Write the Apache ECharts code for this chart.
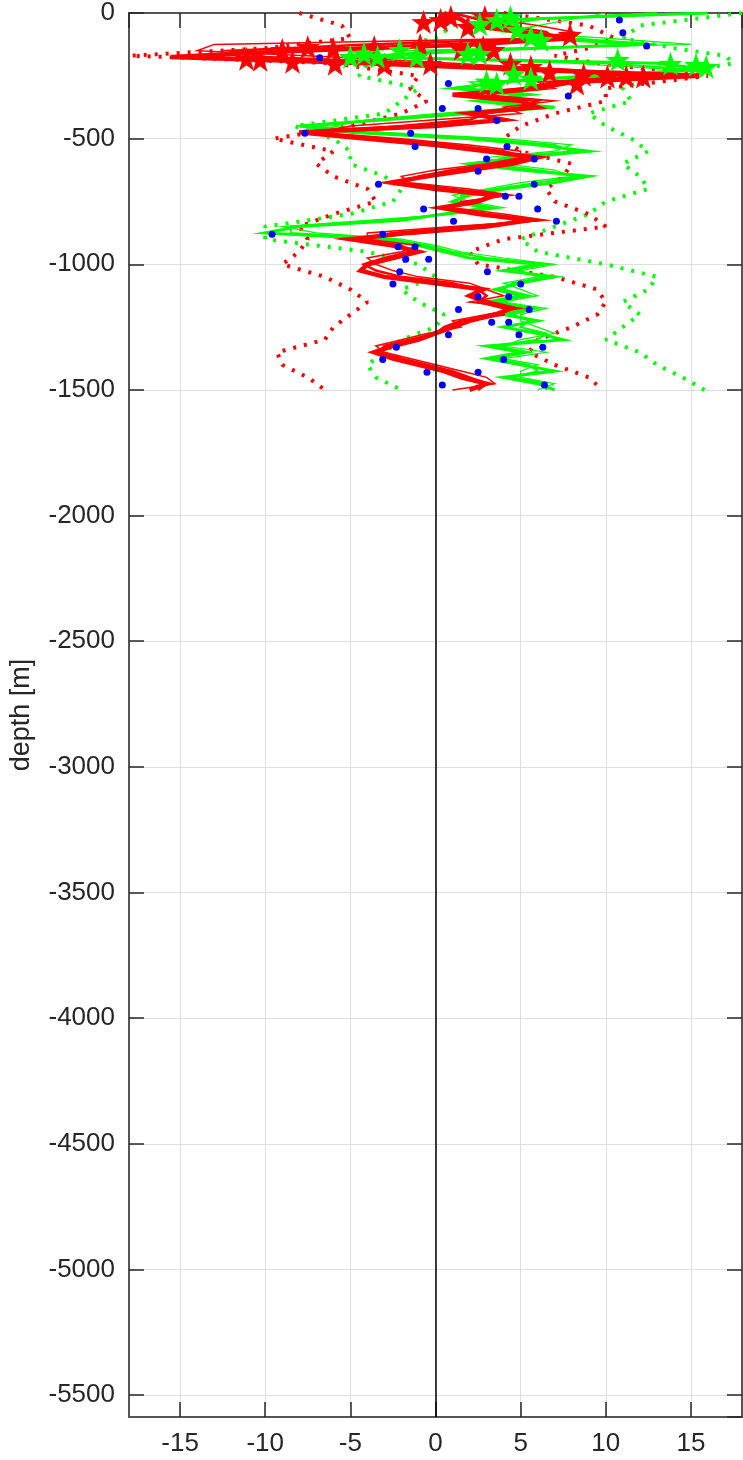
<!DOCTYPE html>
<html>
<head>
<meta charset="utf-8">
<script src="https://cdn.jsdelivr.net/npm/echarts@6/dist/echarts.min.js"></script>
<style>
html,body{margin:0;padding:0;background:#fff;}
#chart{width:743px;height:1460px;}
</style>
</head>
<body>
<div id="chart"></div>
<script>
// ---- data ----
const depth = [0,-25,-50,-75,-100,-125,-150,-175,-200,-225,-250,-275,-300,-325,-350,-375,-400,-425,-450,-475,-500,-525,-550,-575,-600,-625,-650,-675,-700,-725,-750,-775,-800,-825,-850,-875,-900,-925,-950,-975,-1000,-1025,-1050,-1075,-1100,-1125,-1150,-1175,-1200,-1225,-1250,-1275,-1300,-1325,-1350,-1375,-1400,-1425,-1450,-1475,-1500];

const redA = [0.5,1.5,2,5,8,2,-8,-15.5,-4,5,15.5,8,6,1,5,6,2,4,0,-8,-4,0,3,6,4.5,2,-0.5,-2.6,0,3.5,2.5,0.3,2.5,5.5,3,-1.5,-5,-2.5,-1,-2.5,-4,-4.4,-3,0,2.8,2,3,4.5,3.5,2,1,0,-1,-2.5,-3.6,-2.5,-1,0.5,1.5,3,2];
const redB = [2,3.5,6,8,6,-13,-14,-6,1,8,12,6,7,3,7,4,5,0,-5,-7,-2,2,5,5,3,0,-2,-1.5,2,4.5,1.5,1,4,6.5,1,-4,-4,-1,-2,-4,-3.5,-2.5,-1,2,3,4,2,5,3,1,1.5,-0.5,-2,-3.5,-3,-1.5,0,1.5,3,3.5,1];
const redC = [1,2.5,4,6.5,7,-4,-12,-10,-1,7,14,7,5,2,6,5,3,2,-2,-7.5,-3,1,4,5.5,3.5,1,-1,-2,1,4,2,0.5,3,6,2,-2.5,-4.5,-2,-1.5,-3,-4.2,-3.5,-2,1,2.5,3,2.5,4,4,1.5,0.5,0,-1.5,-3,-3.3,-2,-0.5,1,2,3,2.5];
const greenA = [16,5,3,5,6,12,2,-4.5,13,16,9,4,1,5,3,7,2,-3,-8,-5,2,6,9,5,2,5,9,7,4,2,1,3,0.5,-2,-8,-10,-3,-1,0.5,2,6,4,7,5,3.5,5,3,5.5,4,6,4,6,7.5,3,5,3,5,7,4,6,7];
const greenB = [10,8,6,4,10,15,-2,-3,8,14,12,2,3,6,2,5,0,-4,-6,-3,4,8,7,3,4,7,8,5,3,1,2,4,1,-4,-9,-7,-2,0,1.5,4,7,5,6,4,5,6,4,6.5,5,5,6,7,5,4,6.5,4,6,5,5,7,6];
const greenC = [13,6,4,4.5,8,13,0,-4,10,15,10,3,2,5.5,2.5,6,1,-3.5,-7,-4,3,7,8,4,3,6,8.5,6,3.5,1.5,1.5,3.5,0.8,-3,-8.5,-8.5,-2.5,-0.5,1,3,6.5,4.5,6.5,4.5,4,5.5,3.5,6,4.5,5.5,5,6.5,6,3.5,5.5,3.5,5.5,6,4.5,6.5,6.5];

const envDepth = [0,-50,-100,-140,-170,-200,-250,-300,-350,-400,-450,-500,-550,-600,-650,-700,-750,-800,-850,-900,-950,-1000,-1050,-1100,-1150,-1200,-1250,-1300,-1350,-1400,-1450,-1500];
const redLo = [-8,-5.5,-5,-10,-17.9,-6,-1,-1.5,-0.5,-2,-5,-9.5,-6,-7,-6,-4,-3.5,-6,-8,-7.5,-8,-9,-6.5,-5,-4,-5,-6,-6.5,-9.3,-9,-7.5,-6.5];
const redHi = [4,9,10.5,9,7,9.5,16,10,10,7,5,4,5,8,7.5,6.5,7,9,10,4,2,2.5,7,9.5,10,9.5,8,6,5.5,7,9,9.8];
const greenLo = [3,1,0,-3,-5,-4,-4.5,-1,-2,-3,-8.3,-6,-5,-5,-3,-2,-2.5,-5,-10,-10,-4,-1,0,-2,-1,0.5,0,-2,-3,-4,-3.5,-2];
const greenHi = [18,12,11,14,17,17.5,13,11,11.5,9,10,11.5,12.5,11,12,12.5,10,9,7,5,6,10,13,12.5,11,12,11,10,12,13,14.5,15.8];

const redStarX = [-11.1,-10.3,-8.4,-5.9,-3.0,-0.3,-9.0,-7.5,-6.0,-3.6,-0.9,-0.7,0.3,0.9,2.9,1.9,7.9,1.5,2.8,3.4,4.4,5.6,6.7,8.7,10.1,11.2,12.2,8.3];
const redStarD = [-182,-186,-194,-202,-206,-202,-147,-135,-143,-135,-127,-36,-28,-16,-16,-55,-87,-143,-135,-147,-202,-214,-234,-246,-253,-253,-253,-281];
const greenStarX = [2.6,3.6,4.4,4.8,5.6,6.2,1.9,2.6,10.7,13.8,15.3,15.9,4.6,5.6,3.0,3.6,-5.0,-4.2,-3.4,-2.1,-1.1];
const greenStarD = [-44,-28,-16,-67,-95,-107,-162,-162,-186,-202,-206,-214,-242,-261,-273,-281,-174,-162,-174,-147,-174];

const blueX = [10.8,11.0,12.4,-6.8,0.76,7.8,0.4,2.5,3.6,-7.67,-1.46,-1.2,4.2,3.0,5.8,2.5,-3.35,5.8,4.1,4.9,-0.7,6.0,1.06,7.1,-9.6,-3.1,-2.2,-1.2,-1.75,-0.4,-2.1,3.05,-2.5,5.0,2.5,4.3,1.35,5.5,3.3,4.3,0.76,4.9,-2.3,6.3,-3.1,4.0,-0.5,2.5,0.4,6.4];
const blueD = [-28,-79,-131,-178,-281,-330,-380,-380,-428,-479,-479,-531,-531,-581,-581,-630,-681,-681,-729,-729,-780,-780,-829,-829,-880,-880,-930,-930,-980,-980,-1030,-1030,-1078,-1078,-1129,-1129,-1180,-1180,-1231,-1231,-1280,-1280,-1330,-1330,-1379,-1379,-1430,-1430,-1480,-1480];

const xTicks = [-15,-10,-5,0,5,10,15];
const yTicks = [0,-500,-1000,-1500,-2000,-2500,-3000,-3500,-4000,-4500,-5000,-5500];

// ---- build ----
const pair = (xs, ds) => xs.map((x, i) => [x, ds[i]]);
const star = 'path://M0,-10 L2.35,-3.24 L9.51,-3.09 L3.8,1.24 L5.88,8.09 L0,4 L-5.88,8.09 L-3.8,1.24 L-9.51,-3.09 L-2.35,-3.24 Z';
const RED = '#ff0000', GREEN = '#00ff00', BLUE = '#0000ff';
const AX = '#262626';
const FONT = 'Liberation Sans, Arial, Helvetica, sans-serif';

function dotted(name, xs, color) {
  return { name, type: 'line', data: pair(xs, envDepth), showSymbol: false, silent: true,
    lineStyle: { color, width: 4, type: [3, 8], cap: 'butt', opacity: 1 }, z: 2 };
}
function solid(name, xs, color, w, z) {
  return { name, type: 'line', data: pair(xs, depth), showSymbol: false, silent: true,
    lineStyle: { color, width: w, opacity: 1, join: 'miter' }, z };
}

const chart = echarts.init(document.getElementById('chart'), null, { renderer: 'canvas' });
const axisCommon = {
  type: 'value',
  axisLine: { show: true, onZero: false, lineStyle: { color: '#555', width: 2 } },
  axisTick: { show: true, inside: true, length: 15, lineStyle: { color: AX, width: 1.5 } },
  minorTick: { show: false }
};
chart.setOption({
  animation: false,
  backgroundColor: '#ffffff',
  grid: { left: 128, right: 1, top: 6, bottom: 43, containLabel: false },
  xAxis: [
    Object.assign({}, axisCommon, {
      min: -18, max: 18, splitNumber: 7, position: 'bottom',
      axisLabel: { show: true, color: AX, fontSize: 26, fontFamily: FONT, margin: 14,
        showMinLabel: false, showMaxLabel: false,
        formatter: v => xTicks.includes(v) ? String(v) : '' },
      splitLine: { show: true, lineStyle: { color: '#dedede', width: 1 } }
    }),
    Object.assign({}, axisCommon, {
      min: -18, max: 18, splitNumber: 7, position: 'top',
      axisLabel: { show: false }, splitLine: { show: false }
    })
  ],
  yAxis: [
    Object.assign({}, axisCommon, {
      min: -5587, max: 0, splitNumber: 11, position: 'left',
      name: 'depth [m]', nameLocation: 'middle', nameGap: 94, nameRotate: 90,
      nameTextStyle: { color: AX, fontSize: 27, fontFamily: FONT },
      axisLabel: { show: true, color: AX, fontSize: 26, fontFamily: FONT, margin: 14,
        showMinLabel: false, showMaxLabel: true,
        formatter: v => yTicks.includes(v) ? String(v) : '' },
      splitLine: { show: true, lineStyle: { color: '#dedede', width: 1 } }
    }),
    Object.assign({}, axisCommon, {
      min: -5587, max: 0, splitNumber: 11, position: 'right',
      axisLabel: { show: false }, splitLine: { show: false }
    })
  ],
  series: [
    dotted('greenLo', greenLo, GREEN),
    dotted('greenHi', greenHi, GREEN),
    dotted('redLo', redLo, RED),
    dotted('redHi', redHi, RED),
    solid('greenB', greenB, GREEN, 1.2, 3),
    solid('greenC', greenC, GREEN, 2, 3),
    solid('greenA', greenA, GREEN, 3, 3),
    solid('redB', redB, RED, 1.5, 4),
    solid('redC', redC, RED, 2.5, 4),
    solid('redA', redA, RED, 4.5, 4),
    { name: 'redStars', type: 'scatter', data: pair(redStarX, redStarD), symbol: star, symbolSize: 24,
      itemStyle: { color: RED, opacity: 1 }, z: 5, silent: true },
    { name: 'greenStars', type: 'scatter', data: pair(greenStarX, greenStarD), symbol: star, symbolSize: 24,
      itemStyle: { color: GREEN, opacity: 1 }, z: 6, silent: true },
    { name: 'zero', type: 'line', data: [], silent: true, z: 7,
      markLine: { silent: true, symbol: ['none', 'none'], label: { show: false },
        lineStyle: { color: '#000000', width: 1.5, type: 'solid' },
        data: [{ xAxis: xTicks[3] }] } },
    { name: 'blue', type: 'scatter', data: pair(blueX, blueD), symbol: 'circle', symbolSize: 7,
      itemStyle: { color: BLUE, opacity: 1 }, z: 8, silent: true }
  ]
});
</script>
</body>
</html>
